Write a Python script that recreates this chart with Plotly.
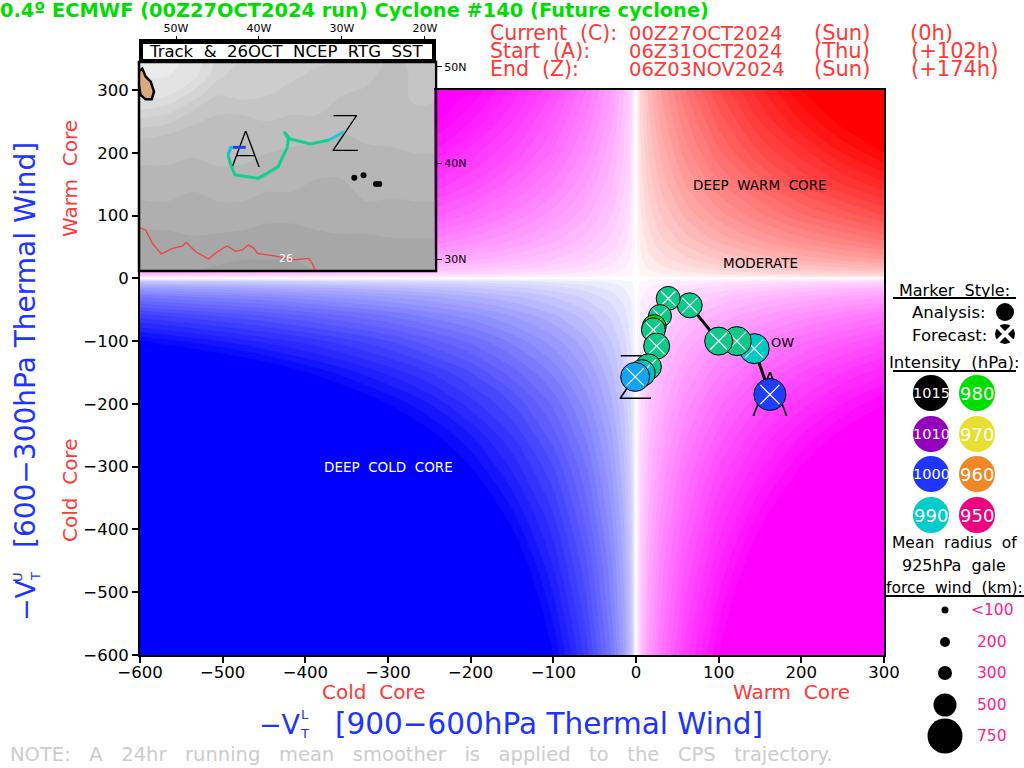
import numpy as np
import plotly.graph_objects as go

W, H = 1024, 768
FONT = "DejaVu Sans"
SP = "\u00a0\u00a0"
SP3 = "\u00a0\u00a0\u00a0"

# --- background field: strength by |x| and |y| (1 and above = fully saturated)
field_axis = [0, 5, 15, 30, 60, 100, 150, 200, 250, 300, 375, 450, 525, 600]
field_sat = [
    [0, 0, 0, 0, 0, 0, 0, 0, 0, 0, 0, 0, 0, 0],
    [0, .02, .035, .05, .07, .09, .11, .13, .14, .155, .17, .19, .205, .22],
    [0, .035, .06, .085, .12, .155, .19, .22, .245, .27, .30, .33, .355, .38],
    [0, .05, .085, .12, .17, .22, .27, .31, .35, .38, .425, .47, .50, .54],
    [0, .07, .12, .17, .24, .31, .38, .44, .49, .54, .60, .66, .71, .76],
    [0, .09, .155, .22, .31, .40, .49, .57, .635, .70, .78, .85, .92, .98],
    [0, .11, .19, .27, .38, .49, .60, .70, .78, .85, .95, 1.05, 1.13, 1.2],
    [0, .13, .22, .31, .44, .57, .70, .80, .90, .98, 1.1, 1.2, 1.3, 1.39],
    [0, .14, .245, .35, .49, .635, .78, .90, 1.0, 1.1, 1.23, 1.35, 1.45, 1.56],
    [0, .155, .27, .38, .54, .70, .85, .98, 1.1, 1.2, 1.35, 1.48, 1.6, 1.7],
    [0, .17, .30, .425, .60, .78, .95, 1.1, 1.23, 1.35, 1.5, 1.65, 1.78, 1.9],
    [0, .19, .33, .47, .66, .85, 1.05, 1.2, 1.35, 1.48, 1.65, 1.8, 1.95, 2.1],
    [0, .205, .355, .50, .71, .92, 1.13, 1.3, 1.45, 1.6, 1.78, 1.95, 2.1, 2.25],
    [0, .22, .38, .54, .76, .98, 1.2, 1.39, 1.56, 1.7, 1.9, 2.1, 2.25, 2.4],
]

# --- cyclone phase track (start A to end Z)
track_vtl = [162, 143, 122, 100, 65, 39, 29, 22, 21, 25, 15, 7, -1]
track_vtu = [-185, -112, -100, -100, -43, -32, -60, -77, -82, -108, -141, -151, -157]
track_color = ["#1f3fff", "#00c8c4", "#10c88a", "#10c88a", "#10c88a", "#10c88a", "#10c88a",
               "#00dd00", "#10c88a", "#10c88a", "#10c88a", "#08bfc0", "#10a4f2"]
track_size = [32, 30, 29, 28, 25, 24, 23, 24, 24, 26, 26, 27, 29]

# --- inset map
sst_lon = [-54.5, -53.65, -52.85, -51.77, -50.44, -49.24, -48.75, -47.63, -46.1, -45.02, -43.82,
           -42.81, -42.01, -41.29, -40.6, -40.2, -38, -35.8, -34, -33.6, -33.25]
sst_lat = [33.3, 33.02, 31.63, 30.52, 31.11, 31.35, 31.74, 30.76, 30.0, 30.76, 31.35,
           30.8, 30.94, 31.46, 31.11, 30.59, 30.31, 29.9, 30.07, 29.55, 28.92]
path_lon = [-41.6, -43.13, -43.4, -43.73, -43.4, -42.89, -40.08, -37.71, -36.59, -36.47, -36.99,
            -36.27, -33.77, -31.57, -29.76]
path_lat = [41.63, 41.63, 41.6, 40.83, 39.79, 38.75, 38.4, 39.6, 41.63, 42.57, 43.26,
            42.5, 41.98, 42.4, 43.26]
land_lon = [-54.54, -54.06, -53.65, -53.05, -52.65, -52.93, -53.65, -54.26, -54.54, -54.54]
land_lat = [49.51, 49.83, 48.99, 48.47, 47.43, 46.63, 46.63, 47.08, 48.3, 49.51]
isle_lon = [-28.51, -27.4, -25.9, -25.5]
isle_lat = [38.47, 38.72, 37.81, 37.81]
map_lon = [-54.5, -51, -48, -45, -42, -39, -36, -33, -30, -27, -24, -21, -18.9]
map_lat = [28.8, 31, 33, 35, 37, 39, 41, 43, 45, 47, 49, 50.6]
map_grey = [
    [158, 158, 158, 157, 156, 156, 156, 158, 158, 160, 160, 160, 160],
    [162, 162, 161, 161, 160, 160, 160, 161, 162, 162, 163, 163, 163],
    [166, 166, 168, 167, 166, 164, 164, 166, 167, 167, 168, 168, 168],
    [171, 172, 170, 172, 172, 170, 170, 170, 171, 172, 172, 172, 172],
    [176, 176, 174, 176, 176, 174, 174, 172, 172, 176, 175, 176, 176],
    [180, 180, 178, 180, 179, 178, 176, 175, 175, 176, 178, 178, 178],
    [185, 185, 183, 186, 186, 182, 180, 180, 178, 180, 180, 182, 182],
    [192, 190, 186, 190, 190, 186, 186, 184, 182, 184, 186, 188, 186],
    [210, 205, 195, 190, 190, 192, 190, 190, 186, 186, 188, 188, 186],
    [225, 222, 210, 198, 200, 198, 192, 192, 190, 188, 186, 192, 192],
    [230, 230, 225, 208, 200, 200, 200, 195, 195, 192, 186, 192, 192],
    [232, 232, 228, 212, 205, 205, 204, 200, 198, 195, 188, 192, 192],
]

# --- legends
hpa_labels = [["1015", "1010", "1000", "990"], ["980", "970", "960", "950"]]
hpa_colors = [["#000000", "#9400bb", "#2035ff", "#00cccc"], ["#00dd00", "#e8e030", "#f08828", "#f00080"]]
gale_labels = ["<100", "200", "300", "500", "750"]
ticks_main = [-600, -500, -400, -300, -200, -100, 0, 100, 200, 300]


def ax(p):
    return p / W


def ay(p):
    return 1 - p / H


fig = go.Figure()
sat = np.array(field_sat)
pos = np.array(field_axis)
quads = [(1, 1, "#ff0000"), (-1, 1, "#ff00ff"), (1, -1, "#ff00ff"), (-1, -1, "#0000ff")]
for sx, sy, col in quads:
    keepx = pos <= (300 if sx > 0 else 600)
    keepy = pos <= (300 if sy > 0 else 600)
    xs, ys = pos[keepx], pos[keepy]
    z = sat[np.ix_(keepy, keepx)]
    if sx < 0:
        xs, z = -xs[::-1], z[:, ::-1]
    if sy < 0:
        ys, z = -ys[::-1], z[::-1, :]
    fig.add_trace(go.Contour(x=xs, y=ys, z=z, showscale=False,
                             colorscale=[[0, "#ffffff"], [1, col]], line_width=0, line_smoothing=1,
                             contours=dict(start=0.02, end=1, size=0.04, coloring="fill"),
                             hoverinfo="skip"))


def letter(ch, x, y, size, xaxis="x", yaxis="y"):
    fig.add_trace(go.Scatter(x=[x], y=[y], xaxis=xaxis, yaxis=yaxis, mode="text", text=[ch],
                             textposition="middle center",
                             textfont=dict(family="Roboto", size=size, color="black", weight=100),
                             hoverinfo="skip"))


letter("A", 162, -195, 62)
letter("Z", -1, -168, 62)
fig.add_trace(go.Scatter(x=track_vtl, y=track_vtu, mode="lines", line=dict(color="black", width=3),
                         hoverinfo="skip"))
for i in range(len(track_vtl)):
    fig.add_trace(go.Scatter(x=[track_vtl[i]], y=[track_vtu[i]], mode="markers",
                             marker=dict(size=track_size[i], color=track_color[i],
                                         line=dict(color="black", width=1)), hoverinfo="skip"))
    fig.add_trace(go.Scatter(x=[track_vtl[i]], y=[track_vtu[i]], mode="markers",
                             marker=dict(size=track_size[i] * 0.6, symbol="x-thin",
                                         line=dict(color="white", width=1.2)), hoverinfo="skip"))

# inset
fig.add_trace(go.Contour(x=map_lon, y=map_lat, z=map_grey, xaxis="x2", yaxis="y2", showscale=False,
                         colorscale=[[0, "#989898"], [1, "#ebebeb"]],
                         line_width=0, line_smoothing=1, hoverinfo="skip",
                         contours=dict(start=150, end=235, size=8, coloring="fill")))
fig.add_trace(go.Scatter(x=sst_lon, y=sst_lat, xaxis="x2", yaxis="y2", mode="lines",
                         line=dict(color="#f04040", width=1.3), hoverinfo="skip"))
fig.add_trace(go.Scatter(x=land_lon, y=land_lat, xaxis="x2", yaxis="y2", mode="lines", fill="toself",
                         fillcolor="#dba97a", line=dict(color="black", width=2.5), hoverinfo="skip"))
fig.add_trace(go.Scatter(x=isle_lon, y=isle_lat, xaxis="x2", yaxis="y2", mode="markers",
                         marker=dict(size=6, color="black"), hoverinfo="skip"))
segments = [(0, 2, "#2040ff"), (1, 4, "#10c0d0"), (3, 14, "#10d090"), (13, 15, "#20c8d0")]
letter("A", -41.6, 40.9, 50, "x2", "y2")
letter("Z", -29.6, 42.6, 50, "x2", "y2")
for a, b, c in segments:
    fig.add_trace(go.Scatter(x=path_lon[a:b], y=path_lat[a:b], xaxis="x2", yaxis="y2", mode="lines",
                             line=dict(color=c, width=3), hoverinfo="skip"))


# legend overlay, pixel-scaled axes
def key(px, py, size, color):
    fig.add_trace(go.Scatter(x=[px], y=[py], xaxis="x3", yaxis="y3", mode="markers",
                             marker=dict(size=size, color=color, line_width=0), hoverinfo="skip"))


key(1005, 312, 18, "black")
key(1005, 334, 20, "black")
fig.add_trace(go.Scatter(x=[1005], y=[334], xaxis="x3", yaxis="y3", mode="markers",
                         marker=dict(size=15, symbol="x-thin", line=dict(color="white", width=4)), hoverinfo="skip"))
col_x = [931, 977]
row_y = [393, 434, 474, 515]
for c in range(2):
    for r in range(4):
        key(col_x[c], row_y[r], 36, hpa_colors[c][r])
gale_y = [610, 642, 673, 705, 736]
gale_d = [7, 10, 14, 23, 35]
for r in range(5):
    key(945, gale_y[r], gale_d[r], "black")

notes = []


def note(text, px, py, size, color="black", anchor="center", angle=0, weight=None, family=FONT):
    notes.append(dict(text=text, x=ax(px), y=ay(py), xref="paper", yref="paper", showarrow=False,
                      xanchor=anchor, yanchor="middle", textangle=angle,
                      font=dict(family=family, size=size, color=color, weight=weight)))


GREEN, RED, BLUE, PINK = "#00dd00", "#ff3838", "#2034ff", "#ff2090"
note("0.4º ECMWF (00Z27OCT2024 run) Cyclone #140 (Future cyclone)", -2, 10, 19.4, GREEN, "left", weight="bold")
header_rows = [
    (33, "Current" + SP + "(C):", "00Z27OCT2024", "(Sun)", 842, "(0h)", 931),
    (51, "Start" + SP + "(A):", "06Z31OCT2024", "(Thu)", 842, "(+102h)", 954),
    (69, "End" + SP + "(Z):", "06Z03NOV2024", "(Sun)", 842, "(+174h)", 954),
]
for py, a, b, c, cx, d, dx in header_rows:
    note(a, 488, py, 20.5, RED, "left")
    note(b, 627, py, 19.5, RED, "left")
    note(c, cx, py, 21, RED)
    note(d, dx, py, 21, RED)

note("Track" + SP + "&" + SP + "26OCT" + SP + "NCEP" + SP + "RTG" + SP + "SST", 286, 51, 16.5, "black")
note("26", 286, 258, 11, "white")
note("DEEP" + SP + "WARM" + SP + "CORE", 760, 185, 13.5, "black")
note("MODERATE", 760, 263, 13.5, "black")
note("DEEP" + SP + "COLD" + SP + "CORE", 388, 467, 13.5, "white")
note("OW", 782, 342, 13, "black")

note("Warm" + SP + "Core", 70, 179, 20, RED, angle=-90)
note("Cold" + SP + "Core", 70, 491, 20, RED, angle=-90)
note("Cold" + SP + "Core", 373, 692, 20, RED)
note("Warm" + SP + "Core", 791, 692, 20, RED)

note("−V", 280, 724, 27, BLUE)
note("T", 304, 733, 13, BLUE)
note("L", 305, 714, 13, BLUE)
note("[900−600hPa Thermal Wind]", 549, 724, 29.5, BLUE)
note("−V", 25, 600, 27, BLUE, angle=-90)
note("T", 35, 577, 13, BLUE, angle=-90)
note("U", 17, 577, 13, BLUE, angle=-90)
note("[600−300hPa Thermal Wind]", 25, 345, 28, BLUE, angle=-90)

note(SP3.join("NOTE: A 24hr running mean smoother is applied to the CPS trajectory.".split(" ")),
     8, 754, 19.5, "#cccccc", "left")

note("Marker" + SP + "Style:", 954, 290, 16)
note("Analysis:", 949, 312, 16.5)
note("Forecast:", 949, 335, 16.5)
note("Intensity" + SP + "(hPa):", 954, 362, 16.5)
for c in range(2):
    for r in range(4):
        label = hpa_labels[c][r]
        note(label, col_x[c], row_y[r], 14.5 if len(label) == 4 else 18, "white")
note("Mean" + SP + "radius" + SP + "of", 954, 543, 15.5)
note("925hPa" + SP + "gale", 954, 565, 16)
note("force" + SP + "wind" + SP + "(km):", 954, 588, 15.5)
for r in range(5):
    note(gale_labels[r], 992, gale_y[r], 15.5, PINK)


def line_shape(x0, y0, x1, y1, width=2):
    return dict(type="line", xref="paper", yref="paper", x0=ax(x0), x1=ax(x1), y0=ay(y0), y1=ay(y1),
                line=dict(color="black", width=width), layer="above")


def rect_shape(x0, y0, x1, y1, fill):
    return dict(type="rect", xref="paper", yref="paper", x0=ax(x0), x1=ax(x1), y0=ay(y0), y1=ay(y1),
                fillcolor=fill, line=dict(color="black", width=2.5 if fill is None else 0), layer="above")


shapes = [
    line_shape(893, 298, 1016, 298), line_shape(893, 371, 1016, 371), line_shape(886, 596, 1024, 596),
    rect_shape(139, 39, 436, 62, "black"), rect_shape(143, 44, 432, 59, "white"),
    rect_shape(139, 62, 436, 271, None),
]

tickfont = dict(family=FONT, size=16.5, color="black")
fig.update_layout(
    width=W, height=H, margin=dict(l=0, r=0, t=0, b=0, pad=0), autosize=False,
    paper_bgcolor="white", plot_bgcolor="rgba(0,0,0,0)", showlegend=False,
    annotations=notes, shapes=shapes,
    xaxis=dict(domain=[ax(140), ax(884)], range=[-600, 300], tickvals=ticks_main, ticks="outside", ticklen=6,
               tickwidth=1.5, tickcolor="black", tickfont=tickfont, showgrid=False, zeroline=False,
               showline=True, linecolor="black", linewidth=2, mirror=True, automargin=False,
               ticklabelstandoff=-5),
    yaxis=dict(domain=[ay(655), ay(90)], range=[-600, 300], tickvals=ticks_main, ticks="outside", ticklen=6,
               tickwidth=1.5, tickcolor="black", tickfont=tickfont, showgrid=False, zeroline=False,
               showline=True, linecolor="black", linewidth=2, mirror=True, automargin=False),
    xaxis2=dict(domain=[ax(139), ax(436)], range=[-54.46, -18.67], side="top", anchor="free", position=ay(39),
                tickvals=[-50, -40, -30, -20], ticktext=["50W", "40W", "30W", "20W"], ticks="outside", ticklen=3,
                tickcolor="black", tickfont=dict(family=FONT, size=11, color="black"), showgrid=False,
                zeroline=False, showline=False, automargin=False),
    yaxis2=dict(domain=[ay(271), ay(62)], range=[28.75, 50.52], side="right", anchor="x2",
                tickvals=[30, 40, 50], ticktext=["30N", "40N", "50N"], ticks="outside", ticklen=5,
                tickcolor="black", tickfont=dict(family=FONT, size=11, color="black"), showgrid=False,
                zeroline=False, showline=False, automargin=False),
    xaxis3=dict(domain=[0, 1], range=[0, W], visible=False, anchor="y3", automargin=False),
    yaxis3=dict(domain=[0, 1], range=[H, 0], visible=False, anchor="x3", automargin=False),
)
fig.write_html("out.html", config={"displayModeBar": False},
               post_script="document.body.style.margin='0';document.body.style.overflow='hidden';")
